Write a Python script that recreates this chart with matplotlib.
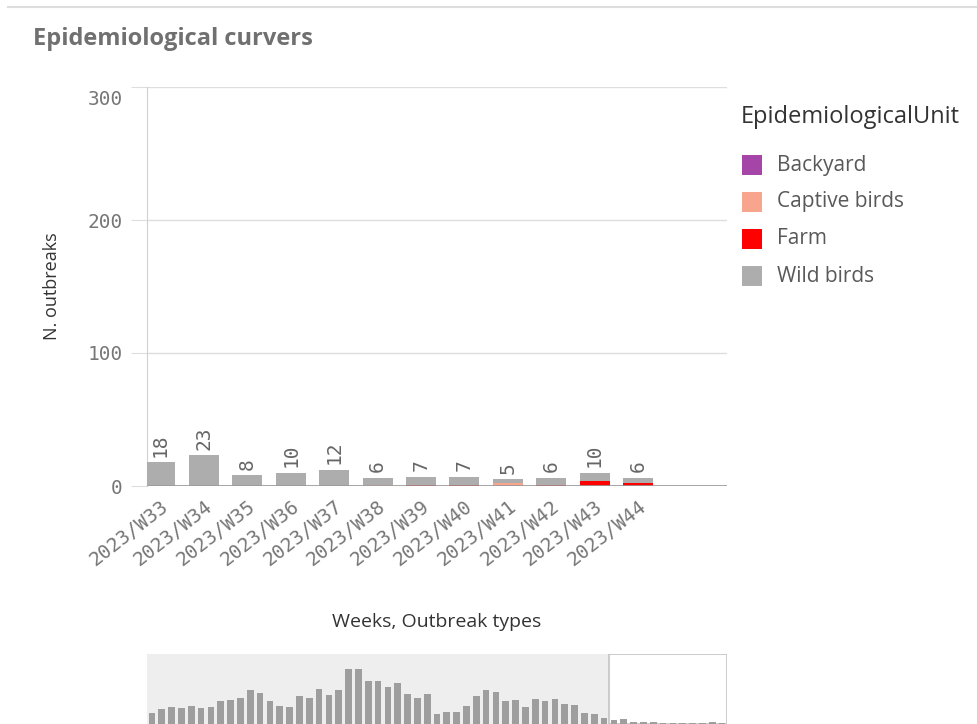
import numpy as np
import matplotlib.pyplot as plt
import matplotlib.transforms as mtransforms
from matplotlib.patches import Rectangle
from matplotlib.lines import Line2D

# data
weeks = ['2023/W33', '2023/W34', '2023/W35', '2023/W36', '2023/W37', '2023/W38',
         '2023/W39', '2023/W40', '2023/W41', '2023/W42', '2023/W43', '2023/W44']
backyard = [0, 0, 0, 0, 0, 0, 0, 0, 0, 0, 0, 0]
captive = [0, 0, 0, 0, 0, 1, 0, 0, 2, 0, 0, 0]
farm = [0, 0, 0, 0, 0, 0, 1, 1, 0, 1, 4, 2]
wild = [18, 23, 8, 10, 12, 5, 6, 6, 3, 5, 6, 4]

# weekly totals before W33 (navigator strip)
history = [55, 75, 85, 80, 90, 80, 85, 115, 120, 130, 170, 155, 115, 90, 85, 140,
           130, 175, 145, 170, 275, 275, 215, 215, 185, 205, 150, 130, 150, 50,
           60, 60, 90, 140, 170, 160, 115, 120, 85, 125, 115, 125, 100, 95, 55,
           50, 30]

series = [('Backyard', backyard, '#a645a8'),
          ('Captive birds', captive, '#f7a68d'),
          ('Farm', farm, '#ff0000'),
          ('Wild birds', wild, '#adadad')]

mono = 'DejaVu Sans Mono'
sans = 'Open Sans'

W, H = 977, 724
fig = plt.figure(figsize=(W / 100, H / 100), dpi=100)

def fx(px):
    return px / W

def fy(py):
    return 1 - py / H

# card border line at top
fig.add_artist(Line2D([fx(8), 1], [fy(7), fy(7)], color='#dddddd', lw=1.5))
fig.text(fx(33), fy(39), 'Epidemiological curvers', fontsize=17, fontweight='bold',
         color='#707070', family=sans, va='center')

# main chart
ax = fig.add_axes([fx(147), fy(486), fx(727) - fx(147), fy(87) - fy(486)])
x = np.arange(len(weeks))
bottom = np.zeros(len(weeks))
for name, vals, col in series:
    ax.bar(x, vals, 0.69, bottom=bottom, color=col, label=name, zorder=3)
    bottom += np.array(vals)

totals = bottom
for xi, t in zip(x, totals):
    ax.annotate(str(int(t)), (xi, t), xytext=(0, 4), textcoords='offset points',
                rotation=90, ha='center', va='bottom', fontsize=14,
                family=mono, color='#666666')

ax.set_xlim(-0.31, 13.05)
ax.set_ylim(0, 300)
ax.set_yticks([0, 100, 200, 300])
ax.grid(axis='y', color='#dedede', lw=1, zorder=0)
for s in ['top', 'right', 'bottom']:
    ax.spines[s].set_visible(False)
ax.spines['left'].set_color('#d0d0d0')
ax.axhline(0, color='#999999', lw=1.2, zorder=4)
ax.tick_params(axis='y', length=11.5, color='#dedede', pad=6, labelsize=14,
               labelcolor='#777777')
ax.tick_params(axis='x', length=0, pad=8, labelsize=14, labelcolor='#777777')
for lab in ax.get_yticklabels():
    lab.set_family(mono)
top_lab = ax.get_yticklabels()[-1]
top_lab.set_va('top')
top_lab.set_transform(top_lab.get_transform() +
                      mtransforms.ScaledTranslation(0, -0.03, fig.dpi_scale_trans))
ax.set_xticks(x)
ax.set_xticklabels(weeks, rotation=38, ha='right', va='top', rotation_mode='anchor',
                   family=mono)
ax.set_ylabel('N. outbreaks', fontsize=13, family=sans, color='#333333', labelpad=19)
fig.text(fx(437), fy(622), 'Weeks, Outbreak types', fontsize=14, family=sans,
         color='#333333', ha='center', va='center')

# legend
fig.text(fx(741), fy(117), 'EpidemiologicalUnit', fontsize=17, family=sans,
         color='#333333', va='center')
for i, (name, vals, col) in enumerate(series):
    yc = 165 + 37 * i
    fig.add_artist(Rectangle((fx(742), fy(yc + 10)), fx(20), 20 / H,
                             facecolor=col, edgecolor='none'))
    fig.text(fx(777), fy(yc), name, fontsize=15, family=sans, color='#595959',
             va='center')

# navigator strip
nav_vals = history + list(totals)
nav = fig.add_axes([fx(147), 0, fx(727) - fx(147), fy(654)])
nav.set_facecolor('#eeeeee')
nx = np.arange(len(nav_vals))
nav.bar(nx, nav_vals, 0.68, color='#9e9e9e', zorder=3)
nav.set_xlim(-0.5, len(nav_vals) - 0.5)
nav.set_ylim(0, 350)
start = len(history) - 0.5
nav.add_patch(Rectangle((start, 0), len(weeks), 350, facecolor='white',
                        edgecolor='#c4c4c4', lw=1.2, zorder=2))
nav.set_xticks([])
nav.set_yticks([])
for s in nav.spines.values():
    s.set_visible(False)

fig.savefig('out.png', dpi=100)
